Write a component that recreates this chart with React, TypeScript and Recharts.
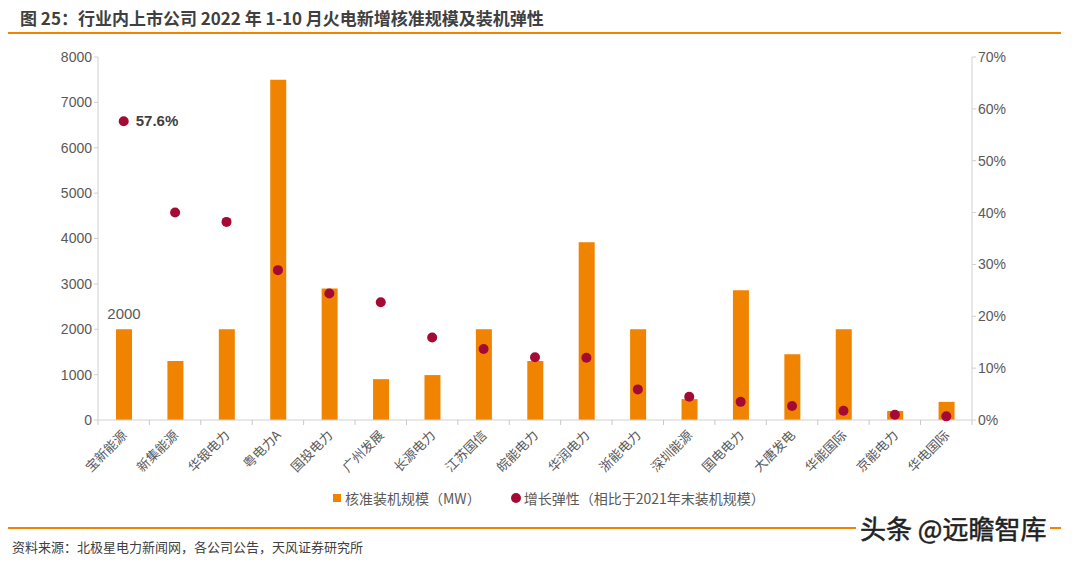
import React from "react";
import { ComposedChart, Bar, Line, XAxis, YAxis, LabelList } from "recharts";

const categories = ["宝新能源", "新集能源", "华银电力", "粤电力A", "国投电力", "广州发展", "长源电力", "江苏国信", "皖能电力", "华润电力", "浙能电力", "深圳能源", "国电电力", "大唐发电", "华能国际", "京能电力", "华电国际"];
const capacityMW = [2000, 1300, 2000, 7500, 2900, 900, 990, 2000, 1300, 3920, 2000, 460, 2860, 1450, 2000, 200, 400];
const growthPct = [57.6, 40.0, 38.2, 28.9, 24.4, 22.7, 15.9, 13.7, 12.1, 12.0, 5.9, 4.5, 3.5, 2.7, 1.8, 1.0, 0.7];
const leftTicks = [0, 1000, 2000, 3000, 4000, 5000, 6000, 7000, 8000];
const rightTicks = [0, 10, 20, 30, 40, 50, 60, 70];

const data = categories.map((name, i) => ({ name, cap: capacityMW[i], growth: growthPct[i] }));

const BAR = "#F08300";
const DOT = "#A50A35";
const AX = "#D0D0D0";
const TXT = "#595959";
const FONT = "'Liberation Sans', Arial, 'Noto Sans CJK SC', sans-serif";
const CJK = "'Noto Sans CJK SC', 'Liberation Sans', sans-serif";
const PLOT_W = 875;

const XTick = (props: any) => {
  const { x, y, payload, index } = props;
  const band = PLOT_W / categories.length;
  const axisY = y - 8;
  const last = index === categories.length - 1;
  return (
    <g>
      <line x1={x - band / 2} x2={x - band / 2} y1={axisY} y2={axisY + 5} stroke="#C8C8C8" strokeWidth={1} />
      {last && <line x1={x + band / 2} x2={x + band / 2} y1={axisY} y2={axisY + 5} stroke="#C8C8C8" strokeWidth={1} />}
      <text
        x={x + 4}
        y={y + 8}
        textAnchor="end"
        fontSize={13}
        fill={TXT}
        fontFamily={CJK}
        transform={`rotate(-45, ${x + 4}, ${y + 8})`}
      >
        {payload.value}
      </text>
    </g>
  );
};

const BarLabel = (props: any) => {
  const { x, y, width, index, value } = props;
  if (index !== 0) return null;
  return (
    <text x={x + width / 2} y={y - 10} textAnchor="middle" fontSize={15} fill={TXT} fontFamily={FONT}>
      {value}
    </text>
  );
};

const DotLabel = (props: any) => {
  const { x, y, index, value } = props;
  if (index !== 0) return null;
  return (
    <text x={x + 12} y={y + 5} textAnchor="start" fontSize={15} fontWeight="bold" fill="#404040" fontFamily={FONT}>
      {`${value}%`}
    </text>
  );
};

export default function App() {
  return (
    <div style={{ position: "absolute", left: 0, top: 0, width: 1080, height: 567, background: "#fff", overflow: "hidden" }}>
      <div style={{ position: "absolute", left: 20, top: 5, fontSize: 17, fontWeight: "bold", color: "#404040", fontFamily: CJK, whiteSpace: "nowrap" }}>
        图 25：行业内上市公司 2022 年 1-10 月火电新增核准规模及装机弹性
      </div>
      <div style={{ position: "absolute", left: 8, top: 32, width: 1053, height: 2, background: "#F08300" }} />
      <ComposedChart
        width={1080}
        height={567}
        data={data}
        margin={{ top: 57, right: 48, left: 38, bottom: 77 }}
        style={{ position: "absolute", left: 0, top: 0 }}
      >
        <XAxis
          dataKey="name"
          interval={0}
          height={70}
          tick={<XTick />}
          axisLine={{ stroke: AX }}
          tickLine={false}
        />
        <YAxis
          yAxisId="left"
          orientation="left"
          width={60}
          domain={[0, 8000]}
          ticks={leftTicks}
          tick={{ fontSize: 14, fill: TXT, fontFamily: FONT }}
          axisLine={{ stroke: AX }}
          tickLine={{ stroke: AX }}
          tickSize={4}
        />
        <YAxis
          yAxisId="right"
          orientation="right"
          width={60}
          domain={[0, 70]}
          ticks={rightTicks}
          tickFormatter={(v: number) => `${v}%`}
          tick={{ fontSize: 14, fill: TXT, fontFamily: FONT }}
          axisLine={{ stroke: AX }}
          tickLine={{ stroke: AX }}
          tickSize={4}
        />
        <Bar yAxisId="left" dataKey="cap" fill={BAR} barSize={16} isAnimationActive={false}>
          <LabelList dataKey="cap" content={<BarLabel />} />
        </Bar>
        <Line
          yAxisId="right"
          dataKey="growth"
          stroke="none"
          dot={{ r: 5, fill: DOT, stroke: "none" }}
          activeDot={false}
          isAnimationActive={false}
        >
          <LabelList dataKey="growth" content={<DotLabel />} />
        </Line>
      </ComposedChart>
      <div style={{ position: "absolute", left: 333, top: 488, display: "flex", alignItems: "center", fontSize: 14, color: TXT, fontFamily: CJK, whiteSpace: "nowrap" }}>
        <span style={{ display: "inline-block", width: 8, height: 8, background: BAR, marginRight: 4 }} />
        <span>核准装机规模（MW）</span>
        <span style={{ display: "inline-block", width: 10, height: 10, borderRadius: 5, background: DOT, marginLeft: 30, marginRight: 3 }} />
        <span>增长弹性（相比于2021年末装机规模）</span>
      </div>
      <div style={{ position: "absolute", left: 8, top: 527, width: 1053, height: 2, background: "#F08300" }} />
      <div style={{ position: "absolute", left: 12, top: 537, fontSize: 13, color: "#404040", fontFamily: CJK, whiteSpace: "nowrap" }}>
        资料来源：北极星电力新闻网，各公司公告，天风证券研究所
      </div>
      <div style={{ position: "absolute", left: 856, top: 509, fontSize: 26, color: "#222", fontFamily: CJK, whiteSpace: "nowrap", background: "#fff", padding: "0 4px", WebkitTextStroke: "0.5px #222" }}>
        头条 @远瞻智库
      </div>
    </div>
  );
}
